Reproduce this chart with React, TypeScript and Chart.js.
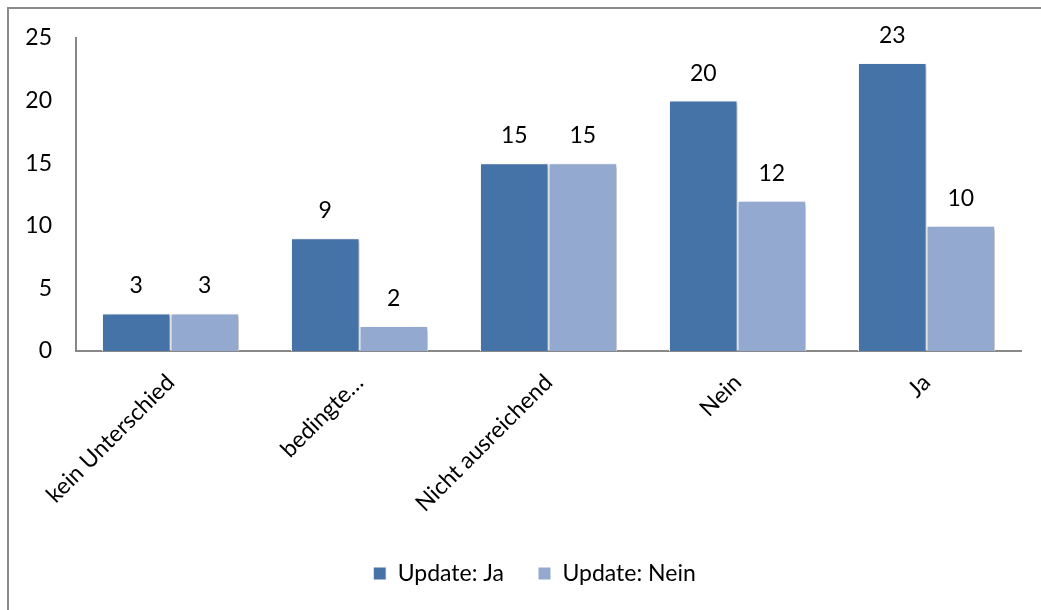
import React, { useEffect, useRef } from "react";
import { Chart, registerables } from "chart.js";

Chart.register(...registerables);

const categories = ["kein Unterschied", "bedingte…", "Nicht ausreichend", "Nein", "Ja"];
const updateJa = [3, 9, 15, 20, 23];
const updateNein = [3, 2, 15, 12, 10];
const seriesNames = ["Update: Ja", "Update: Nein"];
const yTicks = { min: 0, max: 25, step: 5 };

const FONT = "Lato";

const frame = {
  id: "frame",
  afterDraw(chart: any) {
    const ctx = chart.ctx;
    ctx.save();
    ctx.strokeStyle = "#8a8a8a";
    ctx.lineWidth = 2;
    ctx.beginPath();
    ctx.moveTo(8, 612);
    ctx.lineTo(8, 8);
    ctx.lineTo(1045, 8);
    ctx.stroke();
    ctx.restore();
  },
};

const legendShift = {
  id: "legendShift",
  afterLayout(chart: any) {
    const lg = chart.legend;
    if (lg) {
      lg.left += 48;
    }
  },
};

const shadow = {
  id: "barShadow",
  beforeDatasetDraw(chart: any) {
    const ctx = chart.ctx;
    ctx.save();
    ctx.shadowColor = "rgba(0,0,0,0.28)";
    ctx.shadowBlur = 4;
    ctx.shadowOffsetX = 2;
    ctx.shadowOffsetY = 2;
  },
  afterDatasetDraw(chart: any) {
    chart.ctx.restore();
  },
};

const valueLabels = {
  id: "valueLabels",
  afterDatasetsDraw(chart: any) {
    const ctx = chart.ctx;
    ctx.save();
    ctx.font = `23px ${FONT}`;
    ctx.fillStyle = "#000";
    ctx.textAlign = "center";
    ctx.textBaseline = "alphabetic";
    chart.data.datasets.forEach((ds: any, i: number) => {
      const meta = chart.getDatasetMeta(i);
      meta.data.forEach((bar: any, j: number) => {
        ctx.fillText(String(ds.data[j]), bar.x, bar.y - 20);
      });
    });
    ctx.restore();
  },
};

export default function App() {
  const ref = useRef<HTMLCanvasElement>(null);
  useEffect(() => {
    if (!ref.current) return;
    const chart = new Chart(ref.current, {
      type: "bar",
      data: {
        labels: categories,
        datasets: [
          {
            label: seriesNames[0],
            data: updateJa,
            backgroundColor: "#4572A7",
            borderColor: "#ffffff",
            borderWidth: 1,
          },
          {
            label: seriesNames[1],
            data: updateNein,
            backgroundColor: "#93A9CF",
            borderColor: "#ffffff",
            borderWidth: 1,
          },
        ],
      },
      options: {
        responsive: false,
        animation: false,
        layout: { padding: { top: 38, right: 20, bottom: 15, left: 0 } },
        datasets: { bar: { categoryPercentage: 0.725, barPercentage: 1 } } as any,
        plugins: {
          tooltip: { enabled: false },
          legend: {
            position: "bottom",
            labels: {
              font: { family: FONT, size: 23 },
              color: "#000",
              boxWidth: 13,
              boxHeight: 13,
              padding: 34,
            },
          },
        },
        scales: {
          x: {
            grid: { display: false, drawTicks: false },
            border: { display: true, color: "#888888", width: 2 },
            ticks: {
              font: { family: FONT, size: 23 },
              color: "#000",
              minRotation: 45,
              maxRotation: 45,
              autoSkip: false,
              padding: 18,
            },
            afterFit(scale: any) {
              scale.height = 177;
            },
          },
          y: {
            min: yTicks.min,
            max: yTicks.max,
            grid: { display: false, drawTicks: false },
            border: { display: true, color: "#888888", width: 2 },
            ticks: {
              stepSize: yTicks.step,
              font: { family: FONT, size: 23 },
              color: "#000",
              padding: 24,
            },
            afterFit(scale: any) {
              scale.width = 76;
            },
          },
        },
      },
      plugins: [shadow, valueLabels, frame, legendShift],
    });
    return () => chart.destroy();
  }, []);
  return (
    <div style={{ position: "fixed", left: 0, top: 0, width: 1041, height: 610, background: "#fff" }}>
      <canvas ref={ref} width={1041} height={610} style={{ display: "block" }} />
    </div>
  );
}
